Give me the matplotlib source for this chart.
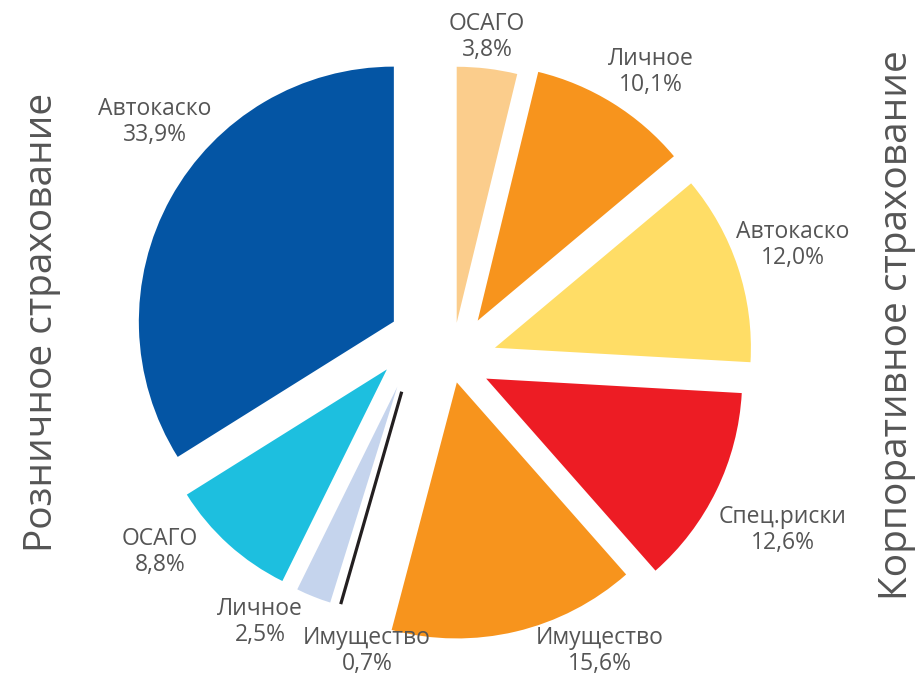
import matplotlib.pyplot as plt
import numpy as np

# Розничное страхование (против часовой стрелки от 12 часов)
retail_names = ["Автокаско", "ОСАГО", "Личное", "Имущество"]
retail_share = [33.9, 8.8, 2.5, 0.7]

# Корпоративное страхование (по часовой стрелке от 12 часов)
corp_names = ["ОСАГО", "Личное", "Автокаско", "Спец.риски", "Имущество"]
corp_share = [3.8, 10.1, 12.0, 12.6, 15.6]

retail_colors = ["#0455A4", "#1DBFDF", "#C5D4ED", "none"]
corp_colors = ["#FBCD8C", "#F7941D", "#FFDD66", "#ED1C24", "#F7941D"]

# layout (pixels, y up)
retail_center = (418, 340)
retail_radius = [255, 236, 226, 221]
retail_offset = [27.6, 46.4, 55.7, 59.0]
corp_center = (452, 313)
corp_radius = 256
corp_offset = [39.5, 48.7, 45.2, 38.0, 21.0]

retail_label_xy = [(155, 553), (160, 123), (260, 53), (367, 24)]
corp_label_xy = [(487, 638), (651, 603), (793, 430), (783, 145), (600, 24)]

TEXT = "#555555"
FONT = "Open Sans"


def pct(v):
    return f"{v:.1f}".replace(".", ",") + "%"


fig = plt.figure(figsize=(9.19, 6.75), dpi=100)
ax = fig.add_axes([0, 0, 1, 1])

# explode в pie задаётся в единицах данных (пикселях здесь)
r_wedges, _ = ax.pie(
    [v / 100 for v in retail_share],
    normalize=False,
    startangle=90,
    counterclock=True,
    colors=retail_colors,
    center=retail_center,
    radius=retail_radius[0],
    explode=retail_offset,
    wedgeprops=dict(linewidth=0),
)
for w, r in zip(r_wedges, retail_radius):
    w.set_radius(r)

# самый маленький сектор рисуем линией по биссектрисе
tiny = r_wedges[-1]
mid = np.deg2rad((tiny.theta1 + tiny.theta2) / 2)
cx, cy = tiny.center
ax.plot([cx, cx + tiny.r * np.cos(mid)], [cy, cy + tiny.r * np.sin(mid)],
        color="#231F20", lw=2.3, solid_capstyle="butt")

c_wedges, _ = ax.pie(
    [v / 100 for v in corp_share],
    normalize=False,
    startangle=90,
    counterclock=False,
    colors=corp_colors,
    center=corp_center,
    radius=corp_radius,
    explode=corp_offset,
    wedgeprops=dict(linewidth=0),
)

for name, v, (x, y) in zip(retail_names, retail_share, retail_label_xy):
    ax.text(x, y, f"{name}\n{pct(v)}", ha="center", va="center", fontsize=16.5,
            color=TEXT, family=FONT, linespacing=1.1)
for name, v, (x, y) in zip(corp_names, corp_share, corp_label_xy):
    ax.text(x, y, f"{name}\n{pct(v)}", ha="center", va="center", fontsize=16.5,
            color=TEXT, family=FONT, linespacing=1.1)

ax.text(42, 353, "Розничное страхование", rotation=90, ha="center", va="center",
        fontsize=28, color=TEXT, family=FONT)
ax.text(897, 350, "Корпоративное страхование", rotation=90, ha="center", va="center",
        fontsize=28, color=TEXT, family=FONT)

ax.set_xlim(0, 919)
ax.set_ylim(0, 675)
ax.set_aspect("equal")
ax.axis("off")

fig.savefig("out.png", dpi=100)
